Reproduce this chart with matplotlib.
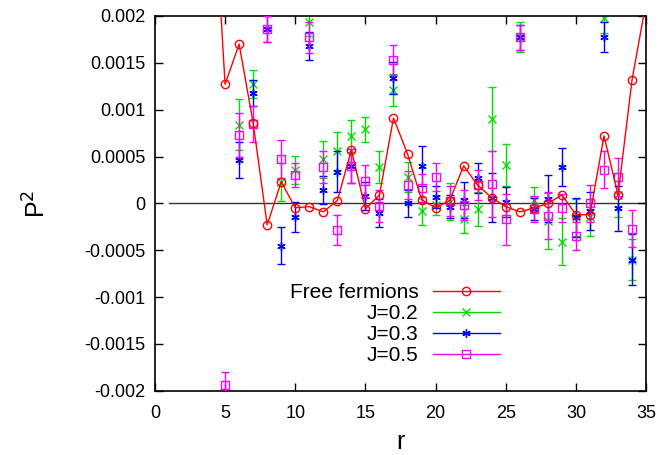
import numpy as np
import matplotlib
matplotlib.use("Agg")
import matplotlib.pyplot as plt
from matplotlib.lines import Line2D

plt.rcParams['font.family'] = ['Liberation Sans', 'DejaVu Sans']

# free fermions, r = 4..35
r_free = np.arange(4, 36)
p_free = [0.0038, 0.00127, 0.0017, 0.00086, -0.00023, 0.00023, -0.000046, -0.000035,
          -0.00009, 0.00003, 0.00057, -0.00006, 0.00009, 0.00091, 0.00053, 0.00004,
          -0.000046, 0.00003, 0.0004, 0.000195, 0.00006, -0.000035, -0.00009, -0.00005,
          0.0, 0.00009, -0.00012, -0.00012, 0.00072, 0.00009, 0.00132, 0.00215]

# J=0.2
r_02 = np.arange(6, 35)
p_02 = [0.00084, 0.00127, 0.0024, 0.00023, 0.00036, 0.00194, 0.00047, 0.00056, 0.00072,
        0.00079, 0.00039, 0.00121, 0.00028, -0.00008, -0.00002, 0.00002, -0.00017,
        -0.00006, 0.0009, 0.00041, 0.00177, 0.00004, -0.00019, -0.00041, -0.00015,
        -0.00015, 0.00198, 0.00009, -0.0006]
e_02 = [0.00027, 0.00015, 0.0002, 0.0002, 0.00015, 0.00015, 0.0002, 0.0002, 0.00017,
        0.00013, 0.00017, 0.00017, 0.00016, 0.00015, 0.0001, 0.0002, 0.00015,
        0.00018, 0.00034, 0.00022, 0.00016, 0.00013, 0.0003, 0.00025, 0.0002,
        0.0002, 0.00016, 0.00023, 0.00022]

# J=0.3
r_03 = np.arange(6, 35)
p_03 = [0.00046, 0.00118, 0.00186, -0.00045, -0.000145, 0.00168, 0.00014, 0.00034, 0.0004,
        0.00008, -0.0001, 0.00134, 0.0, 0.0004, 0.00007, -0.000035, 0.000035,
        0.00027, 0.00006, 0.000015, 0.00177, -0.00006, 0.00005, 0.00039, -0.00015,
        -0.00008, 0.00177, -0.00005, -0.0006]
e_03 = [0.00019, 0.00014, 0.00014, 0.0002, 0.00016, 0.00015, 0.00015, 0.00022, 0.00018,
        0.00015, 0.00015, 0.00017, 0.00014, 0.00021, 0.00012, 0.00012, 0.00019,
        0.00016, 0.00026, 0.00016, 0.00013, 0.00012, 0.00025, 0.0002, 0.00021,
        0.0002, 0.00016, 0.00024, 0.00027]

# J=0.5
r_05 = np.arange(5, 35)
p_05 = [-0.00194, 0.00073, 0.00085, 0.00186, 0.000475, 0.0003, 0.00177, 0.00039, -0.00028,
        0.0004, 0.00024, -0.00003, 0.00153, 0.000195, 0.000167, 0.00028, 0.000025,
        -0.00002, 0.000195, 0.00021, -0.00017, 0.00177, -0.00006, -0.00013, -0.00005,
        -0.00035, 0.0, 0.00036, 0.00028, -0.00027]
e_05 = [0.00014, 0.00023, 0.00019, 0.00014, 0.0002, 0.00013, 0.00017, 0.00017, 0.00016,
        0.00018, 0.00017, 0.00017, 0.00016, 0.00015, 0.00015, 0.00015, 0.00016,
        0.00016, 0.00016, 0.00035, 0.00027, 0.00013, 0.00014, 0.00025, 0.00015,
        0.00015, 0.0002, 0.0002, 0.0002, 0.0002]

red = '#ff0000'
green = '#00e000'
blue = '#0000ff'
magenta = '#ff00ff'

fig = plt.figure(figsize=(6.62, 4.55), dpi=100)
ax = fig.add_axes([0.234, 0.141, 0.742, 0.824])

ax.plot([1, 35], [0, 0], color='#333333', lw=1.0, zorder=1)

eb = dict(capsize=3, elinewidth=1.0, capthick=1.0, ls='none', markersize=6)
ax.errorbar(r_02, p_02, yerr=e_02, color=green, marker='x', mew=1.0, **eb, zorder=2)
ax.errorbar(r_03, p_03, yerr=e_03, color=blue, marker=(6, 2, 0), mew=1.0, **eb, zorder=3)
ax.errorbar(r_05, p_05, yerr=e_05, color=magenta, marker='s', mfc='none', mew=1.0, **eb, zorder=4)
ax.plot(r_free, p_free, color=red, marker='o', mfc='none', ms=6, mew=1.0, lw=1.0, zorder=5)

ax.set_xlim(0, 35)
ax.set_ylim(-0.002, 0.002)
ax.set_xticks(np.arange(0, 36, 5))
yt = [0.002, 0.0015, 0.001, 0.0005, 0, -0.0005, -0.001, -0.0015, -0.002]
ax.set_yticks(yt)
ax.set_yticklabels(['0.002', '0.0015', '0.001', '0.0005', '0', '-0.0005', '-0.001', '-0.0015', '-0.002'])
ax.tick_params(direction='in', top=True, right=True, length=6, width=1, labelsize=13)
ax.tick_params(axis='x', pad=10)
ax.tick_params(axis='y', pad=7)
for s in ax.spines.values():
    s.set_linewidth(1.2)

ax.set_xlabel('r', fontsize=18, labelpad=6)
ax.set_ylabel('P$^2$', fontsize=18, labelpad=24)

handles = [
    Line2D([], [], color=red, marker='o', mfc='none', ms=6, lw=1.0),
    Line2D([], [], color=green, marker='x', ms=6, lw=1.0),
    Line2D([], [], color=blue, marker=(6, 2, 0), ms=6, lw=1.0),
    Line2D([], [], color=magenta, marker='s', mfc='none', ms=6, lw=1.0),
]
labels = ['Free fermions', 'J=0.2', 'J=0.3', 'J=0.5']
ax.legend(handles, labels, loc='lower right', bbox_to_anchor=(0.723, 0.04), frameon=False,
          markerfirst=False, fontsize=15, handlelength=3.2, labelspacing=0.1,
          handletextpad=0.7, borderpad=0)

fig.savefig('out.png', dpi=100)
